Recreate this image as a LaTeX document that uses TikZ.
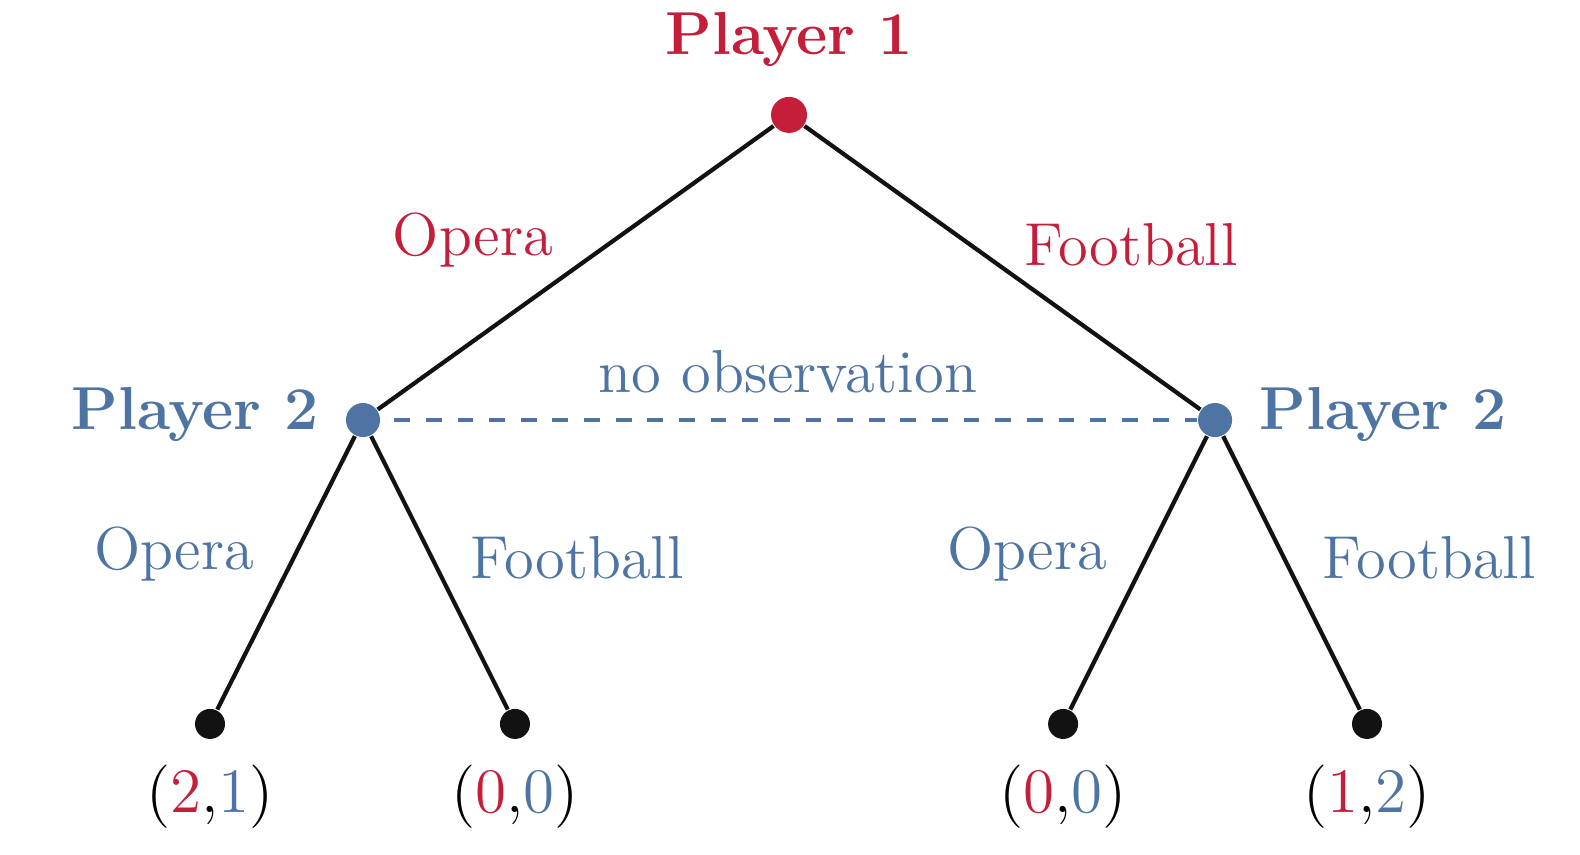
\documentclass[tikz,border=0pt]{standalone}
\usepackage{tikz}
\usetikzlibrary{calc}

\definecolor{ponered}{RGB}{196,30,58}
\definecolor{ptwoblue}{RGB}{78,116,163}

\tikzset{
  decision/.style={circle, inner sep=0pt, minimum size=#1},
  leaf/.style={circle, fill=black!93, inner sep=0pt, minimum size=0.2cm},
  branch/.style={draw=black!93, line width=0.8pt},
  move/.style={font=\fontsize{11.5}{14}\selectfont}
}

\begin{document}
\begin{tikzpicture}
\useasboundingbox (0,0) rectangle (10.533,5.693);
% decision nodes
\node[decision=0.24cm, fill=ponered] (root) at (5.26, 4.927) {};
\node[decision=0.227cm, fill=ptwoblue] (ptwoL) at (2.42, 2.893) {};
\node[decision=0.227cm, fill=ptwoblue] (ptwoR) at (8.10, 2.893) {};
% terminal nodes
\node[leaf] (oo) at (1.40, 0.867) {};
\node[leaf] (of) at (3.433, 0.867) {};
\node[leaf] (fo) at (7.087, 0.867) {};
\node[leaf] (ff) at (9.113, 0.867) {};
% players
\node[move, text=ponered] (pone) at (5.26, 5.427) {\textbf{Player 1}};
\node[move, text=ptwoblue] (ptwoLlabel) at (1.30, 2.927) {\textbf{Player 2}};
\node[move, text=ptwoblue] (ptwoRlabel) at (9.22, 2.927) {\textbf{Player 2}};
% branches
\draw[branch] (root) -- (ptwoL);
\draw[branch] (root) -- (ptwoR);
\draw[branch] (ptwoL) -- (oo);
\draw[branch] (ptwoL) -- (of);
\draw[branch] (ptwoR) -- (fo);
\draw[branch] (ptwoR) -- (ff);
% information set
\draw[ptwoblue, line width=0.8pt, dashed, shorten <=2.5pt] (ptwoL) -- (ptwoR);
\node[move, text=ptwoblue] (infoset) at (5.253, 3.213) {no observation};
% actions
\node[move, text=ponered] (aopera) at (3.153, 4.093) {Opera};
\node[move, text=ponered] (afoot) at (7.54, 4.06) {Football};
\node[move, text=ptwoblue] (aLopera) at (1.16, 2.0) {Opera};
\node[move, text=ptwoblue] (aLfoot) at (3.847, 1.973) {Football};
\node[move, text=ptwoblue] (aRopera) at (6.847, 2.0) {Opera};
\node[move, text=ptwoblue] (aRfoot) at (9.527, 1.973) {Football};
% payoffs
\node[move] (uoo) at (1.40, 0.38) {$(\textcolor{ponered}{2}{,}\textcolor{ptwoblue}{1})$};
\node[move] (uof) at (3.433, 0.38) {$(\textcolor{ponered}{0}{,}\textcolor{ptwoblue}{0})$};
\node[move] (ufo) at (7.087, 0.38) {$(\textcolor{ponered}{0}{,}\textcolor{ptwoblue}{0})$};
\node[move] (uff) at (9.113, 0.38) {$(\textcolor{ponered}{1}{,}\textcolor{ptwoblue}{2})$};
\end{tikzpicture}
\end{document}
